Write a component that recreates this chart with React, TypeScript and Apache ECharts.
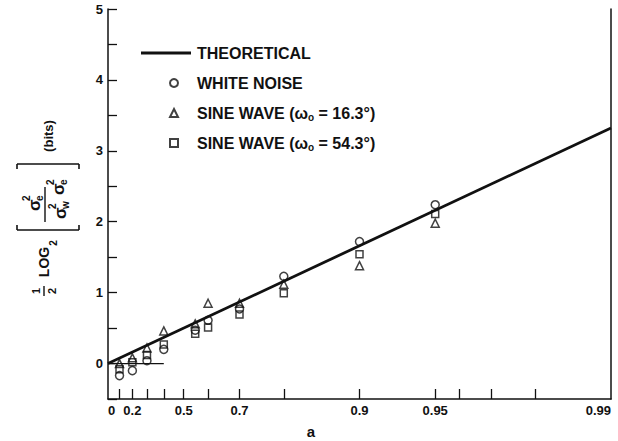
import React, { useEffect, useRef } from "react";
import * as echarts from "echarts";

// ---- data ----
const A_VALUES = [0.1, 0.2, 0.3, 0.4, 0.55, 0.6, 0.7, 0.8, 0.9, 0.95];
const WHITE_NOISE = [-0.17, -0.1, 0.04, 0.2, 0.47, 0.61, 0.77, 1.23, 1.72, 2.24];
const SINE_16 = [0.0, 0.08, 0.22, 0.46, 0.56, 0.85, 0.85, 1.12, 1.38, 1.98];
const SINE_54 = [-0.08, 0.02, 0.12, 0.27, 0.42, 0.51, 0.69, 0.99, 1.54, 2.11];
const THEORY_A = [0, 0.99];
const ZERO_REF_A = [0, 0.4];
const X_TICK_A = [0.1, 0.2, 0.3, 0.4, 0.5, 0.6, 0.7, 0.8, 0.9, 0.95, 0.96, 0.97, 0.98];
const X_LABELS = ["0", "0.2", "0.5", "0.7", "0.9", "0.95", "0.99"];
const Y_LABELS = [0, 1, 2, 3, 4, 5];

const bits = (a: number) => 0.5 * Math.log2(1 / (1 - a));
const X_MAX = bits(0.99);

const FONT = '"Liberation Sans", "DejaVu Sans", sans-serif';

function t(text: string, x: number, y: number, size: number, align = "center", weight = "bold") {
  return {
    type: "text",
    style: {
      text,
      x,
      y,
      font: `${weight} ${size}px ${FONT}`,
      fill: "#111",
      textAlign: align,
      textVerticalAlign: "middle",
      align,
      verticalAlign: "middle",
    },
  };
}
function ln(x1: number, y1: number, x2: number, y2: number, w = 1.6) {
  return { type: "line", shape: { x1, y1, x2, y2 }, style: { stroke: "#111", lineWidth: w } };
}
function sigma(x: number, y: number, sub: string) {
  return [
    t("σ", x, y, 17, "left", "bold"),
    t(sub, x + 10, y + 5, 10, "left", "bold"),
    t("2", x + 10, y - 8, 10, "left", "bold"),
  ];
}

export default function App() {
  const ref = useRef<HTMLDivElement>(null);
  useEffect(() => {
    if (!ref.current) return;
    const chart = echarts.init(ref.current, undefined, { renderer: "svg" });
    const mkPts = (vals: number[]) => A_VALUES.map((a, i) => [bits(a), vals[i]]);
    const scatterBase = (name: string, symbol: string, size: number, vals: number[]) => ({
      name,
      type: "scatter",
      symbol,
      symbolSize: size,
      data: mkPts(vals),
      itemStyle: { color: "rgba(255,255,255,0)", borderColor: "#111", borderWidth: 1.5 },
      z: 2,
    });
    const rich = {
      a: { fontFamily: FONT, fontWeight: "bold", fontSize: 16, color: "#111", lineHeight: 18 },
      s: { fontFamily: FONT, fontWeight: "bold", fontSize: 10, color: "#111", padding: [8, 0, 0, 0] },
    };
    const ylabel = {
      type: "group",
      x: 45,
      y: 210,
      rotation: Math.PI / 2,
      children: [
        t("1", -81, -9, 11),
        ln(-86, -1, -76, -1, 1.4),
        t("2", -81, 7, 11),
        t("LOG", -52, -1, 14),
        t("2", -33, 8, 10),
        ln(-20, -28, -20, 34),
        ln(-20, -28, -15, -28),
        ln(-20, 34, -15, 34),
        ...sigma(-1, -11, "e"),
        ln(-12, 0, 23, 0, 1.4),
        ...sigma(-9, 15, "w"),
        ...sigma(15, 13, "e"),
        ln(46, -28, 46, 34),
        ln(46, -28, 41, -28),
        ln(46, 34, 41, 34),
        t("(bits)", 74, 3, 13),
      ],
    };
    const formatter = (name: string) => {
      if (name === "SINE16") return "{a|SINE WAVE (ω}{s|o}{a| = 16.3°)}";
      if (name === "SINE54") return "{a|SINE WAVE (ω}{s|o}{a| = 54.3°)}";
      return `{a|${name}}`;
    };
    chart.setOption({
      animation: false,
      backgroundColor: "#fff",
      grid: { left: 108, right: 7, top: 9, bottom: 42 },
      legend: [
        {
          orient: "vertical",
          left: 141,
          top: 44,
          padding: 0,
          itemWidth: 50,
          itemHeight: 3,
          selectedMode: false,
          data: [{ name: "THEORETICAL", icon: "rect" }],
          textStyle: { fontFamily: FONT, fontWeight: "bold", fontSize: 16, color: "#111", lineHeight: 18, padding: [0, 0, 0, 1], rich },
          formatter,
        },
        {
          orient: "vertical",
          left: 169,
          top: 74,
          padding: 0,
          itemWidth: 8,
          itemHeight: 8,
          itemGap: 12,
          selectedMode: false,
          data: ["WHITE NOISE", "SINE16", "SINE54"],
          textStyle: { fontFamily: FONT, fontWeight: "bold", fontSize: 16, color: "#111", lineHeight: 18, padding: [0, 0, 0, 14], rich },
          formatter,
        },
      ],
      xAxis: {
        type: "value",
        min: 0,
        max: X_MAX,
        axisLine: { show: true, onZero: false, lineStyle: { color: "#111", width: 1.5 } },
        axisTick: {
          show: true,
          inside: true,
          length: 10,
          customValues: X_TICK_A.map(bits),
          lineStyle: { color: "#111", width: 1.3 },
        },
        axisLabel: {
          customValues: X_LABELS.map((s) => bits(parseFloat(s))),
          formatter: (v: number) => {
            const found = X_LABELS.find((s) => Math.abs(bits(parseFloat(s)) - v) < 1e-6);
            return found ?? "";
          },
          alignMinLabel: "left",
          alignMaxLabel: "right",
          margin: 5,
          fontFamily: FONT,
          fontWeight: "bold",
          fontSize: 13,
          color: "#111",
        },
        splitLine: { show: false },
      },
      yAxis: [
        {
          type: "value",
          min: -0.5,
          max: 5,
          interval: 0.5,
          axisLine: { show: true, onZero: false, lineStyle: { color: "#111", width: 1.5 } },
          axisTick: { show: true, inside: true, length: 9, lineStyle: { color: "#111", width: 1.3 } },
          axisLabel: {
            customValues: Y_LABELS,
            formatter: (v: number) => String(Math.round(v)),
            margin: 5,
            fontFamily: FONT,
            fontWeight: "bold",
            fontSize: 13,
            color: "#111",
          },
          splitLine: { show: false },
        },
        {
          type: "value",
          position: "right",
          min: -0.5,
          max: 5,
          interval: 0.5,
          axisLine: { show: true, onZero: false, lineStyle: { color: "#111", width: 1.5 } },
          axisTick: { show: false },
          axisLabel: { show: false },
          splitLine: { show: false },
        },
      ],
      series: [
        {
          name: "THEORETICAL",
          type: "line",
          symbol: "none",
          data: THEORY_A.map((a) => [bits(a), bits(a)]),
          lineStyle: { color: "#111", width: 2.8 },
          itemStyle: { color: "#111" },
          z: 3,
        },
        {
          name: "zero",
          type: "line",
          symbol: "none",
          data: ZERO_REF_A.map((a) => [bits(a), 0]),
          lineStyle: { color: "#111", width: 1.3 },
          z: 3,
        },
        scatterBase("WHITE NOISE", "circle", 8, WHITE_NOISE),
        scatterBase("SINE16", "triangle", 8, SINE_16),
        scatterBase("SINE54", "rect", 7, SINE_54),
      ],
      graphic: [ylabel, t("a", 311, 431, 15)],
    });
    return () => chart.dispose();
  }, []);
  return (
    <div
      ref={ref}
      style={{ position: "fixed", left: 0, top: 0, width: 618, height: 441, background: "#fff" }}
    />
  );
}
